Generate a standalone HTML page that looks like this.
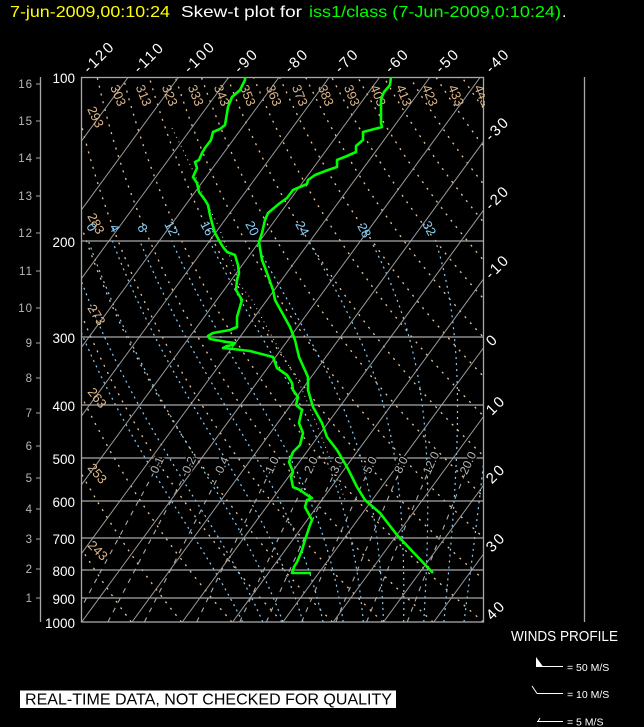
<!DOCTYPE html>
<html><head><meta charset="utf-8"><style>
html,body{margin:0;padding:0;background:#000;width:644px;height:727px;overflow:hidden}
svg{display:block;font-family:"Liberation Sans",sans-serif}
</style></head><body>
<svg id="s" width="644" height="727" viewBox="0 0 644 727" xmlns="http://www.w3.org/2000/svg">
<defs><clipPath id="box"><rect x="81.7" y="77" width="401.6" height="545"/></clipPath>
<clipPath id="lab"><rect x="80" y="77" width="405" height="545"/></clipPath></defs>
<rect width="644" height="727" fill="#000"/>
<!-- title -->
<text x="10" y="17" fill="#ffff00" font-size="16" textLength="160" lengthAdjust="spacingAndGlyphs">7-jun-2009,00:10:24</text>
<text x="181" y="17" fill="#fff" font-size="16" textLength="121" lengthAdjust="spacingAndGlyphs">Skew-t plot for</text>
<text x="309" y="17" fill="#00ff00" font-size="16" textLength="252" lengthAdjust="spacingAndGlyphs">iss1/class (7-Jun-2009,0:10:24)</text>
<text x="562" y="17" fill="#fff" font-size="16">.</text>

<!-- generated dotted lines -->
<g id="gen" clip-path="url(#box)"></g>

<!-- white dotted trace -->
<polyline clip-path="url(#box)" fill="none" stroke="#dddddd" stroke-width="1" stroke-dasharray="1 4" points="172,128 183,150 195,175 205,200 218,225 232,262 240,285 252,300 275,342 300,385 315,420 335,472 345,500"/>

<!-- isotherms -->
<g clip-path="url(#box)" stroke="#9a9a9a" stroke-width="1">
<line x1="-320.7" y1="622" x2="78" y2="77"/>
<line x1="-270.4" y1="622" x2="128.3" y2="77"/>
<line x1="-220.1" y1="622" x2="178.6" y2="77"/>
<line x1="-169.8" y1="622" x2="228.9" y2="77"/>
<line x1="-119.5" y1="622" x2="279.2" y2="77"/>
<line x1="-69.2" y1="622" x2="329.5" y2="77"/>
<line x1="-18.9" y1="622" x2="379.8" y2="77"/>
<line x1="31.4" y1="622" x2="430.1" y2="77"/>
<line x1="81.7" y1="622" x2="480.4" y2="77"/>
<line x1="132" y1="622" x2="530.7" y2="77"/>
<line x1="182.3" y1="622" x2="581" y2="77"/>
<line x1="232.6" y1="622" x2="631.3" y2="77"/>
<line x1="282.9" y1="622" x2="681.6" y2="77"/>
<line x1="333.2" y1="622" x2="731.9" y2="77"/>
<line x1="383.5" y1="622" x2="782.2" y2="77"/>
<line x1="433.8" y1="622" x2="832.5" y2="77"/>
<line x1="484.1" y1="622" x2="882.8" y2="77"/>
</g>

<!-- pressure lines and box -->
<g stroke="#a8a8a8" stroke-width="1.3" fill="none">
<rect x="81.5" y="77.5" width="402" height="544.5"/>
<line x1="81.5" y1="241" x2="483.5" y2="241"/>
<line x1="81.5" y1="337" x2="483.5" y2="337"/>
<line x1="81.5" y1="405" x2="483.5" y2="405"/>
<line x1="81.5" y1="458" x2="483.5" y2="458"/>
<line x1="81.5" y1="501" x2="483.5" y2="501"/>
<line x1="81.5" y1="538" x2="483.5" y2="538"/>
<line x1="81.5" y1="570" x2="483.5" y2="570"/>
<line x1="81.5" y1="598" x2="483.5" y2="598"/>
<line x1="40.5" y1="77" x2="40.5" y2="622"/>
<line x1="584.5" y1="77" x2="584.5" y2="622"/>
</g>

<!-- km ticks -->
<g stroke="#a8a8a8" stroke-width="1">
<line x1="36" y1="84" x2="40" y2="84"/><line x1="36" y1="121" x2="40" y2="121"/>
<line x1="36" y1="158" x2="40" y2="158"/><line x1="36" y1="196" x2="40" y2="196"/>
<line x1="36" y1="233" x2="40" y2="233"/><line x1="36" y1="271" x2="40" y2="271"/>
<line x1="36" y1="308" x2="40" y2="308"/><line x1="36" y1="343" x2="40" y2="343"/>
<line x1="36" y1="378" x2="40" y2="378"/><line x1="36" y1="413" x2="40" y2="413"/>
<line x1="36" y1="446" x2="40" y2="446"/><line x1="36" y1="478" x2="40" y2="478"/>
<line x1="36" y1="509" x2="40" y2="509"/><line x1="36" y1="539" x2="40" y2="539"/>
<line x1="36" y1="569" x2="40" y2="569"/><line x1="36" y1="598" x2="40" y2="598"/>
</g>
<g fill="#b8b8b8" font-size="11.5" text-anchor="end" letter-spacing="1">
<text x="33" y="88">16</text><text x="33" y="125">15</text><text x="33" y="162">14</text>
<text x="33" y="200">13</text><text x="33" y="237">12</text><text x="33" y="275">11</text>
<text x="33" y="312">10</text><text x="33" y="347">9</text><text x="33" y="382">8</text>
<text x="33" y="417">7</text><text x="33" y="450">6</text><text x="33" y="482">5</text>
<text x="33" y="513">4</text><text x="33" y="543">3</text><text x="33" y="573">2</text>
<text x="33" y="602">1</text>
</g>

<!-- pressure labels -->
<g fill="#fff" font-size="13.5" text-anchor="end">
<text x="75" y="83">100</text><text x="75" y="247">200</text><text x="75" y="343">300</text>
<text x="75" y="411">400</text><text x="75" y="464">500</text><text x="75" y="507">600</text>
<text x="75" y="544">700</text><text x="75" y="576">800</text><text x="75" y="604">900</text>
<text x="75" y="628">1000</text>
</g>

<!-- isotherm labels -->
<g fill="#fff" font-size="15" letter-spacing="2">
<text transform="translate(89,74) rotate(-45)">-120</text>
<text transform="translate(139.3,74) rotate(-45)">-110</text>
<text transform="translate(189.6,74) rotate(-45)">-100</text>
<text transform="translate(239.9,74) rotate(-45)">-90</text>
<text transform="translate(290.2,74) rotate(-45)">-80</text>
<text transform="translate(340.5,74) rotate(-45)">-70</text>
<text transform="translate(390.8,74) rotate(-45)">-60</text>
<text transform="translate(441.1,74) rotate(-45)">-50</text>
<text transform="translate(491.4,74) rotate(-45)">-40</text>
<text transform="translate(491,142) rotate(-45)">-30</text>
<text transform="translate(491,211) rotate(-45)">-20</text>
<text transform="translate(491,280) rotate(-45)">-10</text>
<text transform="translate(492,347) rotate(-45)">0</text>
<text transform="translate(492,416) rotate(-45)">10</text>
<text transform="translate(492,484.5) rotate(-45)">20</text>
<text transform="translate(492,553) rotate(-45)">30</text>
<text transform="translate(492,621) rotate(-45)">40</text>
</g>

<!-- dry adiabat labels -->
<g fill="#deb887" font-size="13" clip-path="url(#lab)">
<text transform="translate(110,87) rotate(68)">303</text>
<text transform="translate(135.5,87) rotate(68)">313</text>
<text transform="translate(161.6,87) rotate(68)">323</text>
<text transform="translate(187.6,87) rotate(68)">333</text>
<text transform="translate(213.6,87) rotate(68)">343</text>
<text transform="translate(239.6,87) rotate(68)">353</text>
<text transform="translate(265.6,87) rotate(68)">363</text>
<text transform="translate(291.7,87) rotate(68)">373</text>
<text transform="translate(317.7,87) rotate(68)">383</text>
<text transform="translate(343.7,87) rotate(68)">393</text>
<text transform="translate(369.8,87) rotate(68)">403</text>
<text transform="translate(395.8,87) rotate(68)">413</text>
<text transform="translate(421.8,87) rotate(68)">423</text>
<text transform="translate(447.9,87) rotate(68)">433</text>
<text transform="translate(473.9,87) rotate(68)">443</text>
<text transform="translate(87,109) rotate(65)">293</text>
<text transform="translate(87,216) rotate(62)">283</text>
<text transform="translate(87,308) rotate(58)">273</text>
<text transform="translate(87,392) rotate(52)">263</text>
<text transform="translate(87,468) rotate(50)">253</text>
<text transform="translate(87,546) rotate(45)">243</text>
</g>

<!-- moist labels -->
<g fill="#87cefa" font-size="13" clip-path="url(#lab)">
<text transform="translate(86,226) rotate(62)">0</text>
<text transform="translate(109,227) rotate(62)">4</text>
<text transform="translate(137,227) rotate(62)">8</text>
<text transform="translate(164,224) rotate(62)">12</text>
<text transform="translate(200,224) rotate(62)">16</text>
<text transform="translate(245,224) rotate(62)">20</text>
<text transform="translate(295,224) rotate(62)">24</text>
<text transform="translate(357,226) rotate(62)">28</text>
<text transform="translate(422,224) rotate(62)">32</text>
</g>

<!-- mixing ratio labels -->
<g fill="#b4b4b4" font-size="12" text-anchor="middle" stroke="#000" stroke-width="3" paint-order="stroke">
<text transform="translate(157,465) rotate(-65)" dy="4">0.1</text>
<text transform="translate(189,465) rotate(-65)" dy="4">0.2</text>
<text transform="translate(222,465) rotate(-65)" dy="4">0.4</text>
<text transform="translate(272,465) rotate(-65)" dy="4">1.0</text>
<text transform="translate(311,465) rotate(-65)" dy="4">2.0</text>
<text transform="translate(337,465) rotate(-65)" dy="4">3.0</text>
<text transform="translate(370,465) rotate(-65)" dy="4">5.0</text>
<text transform="translate(401,465) rotate(-65)" dy="4">8.0</text>
<text transform="translate(431,463) rotate(-65)" dy="4">12.0</text>
<text transform="translate(468,463) rotate(-65)" dy="4">20.0</text>
</g>

<!-- temperature -->
<polyline fill="none" stroke="#00ff00" stroke-width="2.6" stroke-linejoin="round" points="391,77 390,85 384,92 381,99 381,123 382,127 363,132 363,140 356,146 356,152 347,156 337,160 337,167 328,170 315,175 308,180 307,184 293,190 287,198 280,203 268,213 265,220 262,233 259,242 262,260 267,273 273,290 275,300 290,327 295,340 299,357 308,377 308,390 313,407 322,423 327,437 337,450 347,467 357,487 365,500 380,513 397,535 413,552 433,573"/>
<!-- dewpoint -->
<polyline fill="none" stroke="#00ff00" stroke-width="2.6" stroke-linejoin="round" points="245,77 245,80 240,90 232,97 228,107 225,125 220,129 213,132 211,140 205,148 202,153 199,160 195,162 197,168 193,177 197,183 199,192 205,200 208,205 210,215 212,223 215,233 220,242 223,247 227,252 235,255 238,265 239,273 237,280 236,290 242,300 237,317 237,327 230,330 213,333 208,336 210,339 227,342 235,343 233,345 227,346 223,348 233,349 250,351 273,357 277,368 287,375 292,383 293,390 298,397 296,405 302,410 299,423 303,433 300,445 293,452 289,462 293,472 291,477 293,487 300,490 307,495 312,498 307,500 305,507 312,520 310,525 305,540 302,550 300,555 297,562 294,567 292,573 311,573"/>

<!-- banner -->
<rect x="20" y="690.5" width="376" height="17.5" fill="#fff"/>
<text x="25" y="704.5" fill="#000" font-size="15.5" textLength="367" lengthAdjust="spacingAndGlyphs">REAL-TIME DATA, NOT CHECKED FOR QUALITY</text>

<!-- winds legend -->
<text x="511" y="641" fill="#fff" font-size="14.5" textLength="107" lengthAdjust="spacingAndGlyphs">WINDS PROFILE</text>
<polygon points="536,657 536,666.5 543,666.5" fill="#fff"/>
<line x1="536" y1="666.5" x2="563" y2="666.5" stroke="#fff" stroke-width="1"/>
<text x="567" y="671" fill="#fff" font-size="10.5">= 50 M/S</text>
<line x1="532" y1="686" x2="537" y2="693.5" stroke="#fff" stroke-width="1"/>
<line x1="537" y1="693.5" x2="563" y2="693.5" stroke="#fff" stroke-width="1"/>
<text x="567" y="698" fill="#fff" font-size="10.5">= 10 M/S</text>
<line x1="537" y1="721.5" x2="563" y2="721.5" stroke="#fff" stroke-width="1"/>
<line x1="538" y1="721.5" x2="540" y2="718" stroke="#fff" stroke-width="1"/>
<text x="567" y="725.5" fill="#fff" font-size="10.5">= 5 M/S</text>
</svg>
<script>
(function(){
var NS="http://www.w3.org/2000/svg";
var g=document.getElementById("gen");
function Y(p){return 622-236.7*Math.log(1000/p);}
function X(T,y){return 81.7+5.03*(T+40)+0.7315*(622-y);}
function add(pts,stroke,dash,w){var d="";for(var i=0;i<pts.length;i++){d+=(i?"L":"M")+pts[i][0].toFixed(1)+" "+pts[i][1].toFixed(1);}
var e=document.createElementNS(NS,"path");e.setAttribute("d",d);e.setAttribute("fill","none");e.setAttribute("stroke",stroke);e.setAttribute("stroke-width",w||"1");e.setAttribute("stroke-dasharray",dash);g.appendChild(e);}
var th,p,pts,y,T;
for(th=223;th<=493;th+=10){pts=[];for(p=1000;p>=99;p-=10){y=Y(p);T=th*Math.pow(p/1000,0.2857)-273.15;pts.push([X(T,y),y]);}add(pts,"#e6c49a","2 6","1.3");}
function es(t){return 6.112*Math.exp(17.67*t/(t+243.5));}
for(var tw=-8;tw<=36;tw+=4){T=tw+273.15;pts=[];for(p=1000;p>=200;p-=2){y=Y(p);pts.push([X(T-273.15,y),y]);var e=es(T-273.15);var rs=0.622*e/(p-e);var num=287.04*T+2.501e6*rs;var den=1005.7+2.501e6*2.501e6*rs*0.622/(287.04*T*T);T+=num/den/p*(-2);}add(pts,"#87cefa","2 4","1.2");}
var ws=[0.1,0.2,0.4,1,2,3,5,8,12,20];
for(var i=0;i<ws.length;i++){var w=ws[i];pts=[];for(p=1000;p>=500;p-=10){y=Y(p);var ev=w*p/(622+w);var L=Math.log(ev/6.112);T=243.5*L/(17.67-L);pts.push([X(T,y),y]);}add(pts,"#aaaaaa","5 6","1.1");}
})();
</script>
</body></html>
